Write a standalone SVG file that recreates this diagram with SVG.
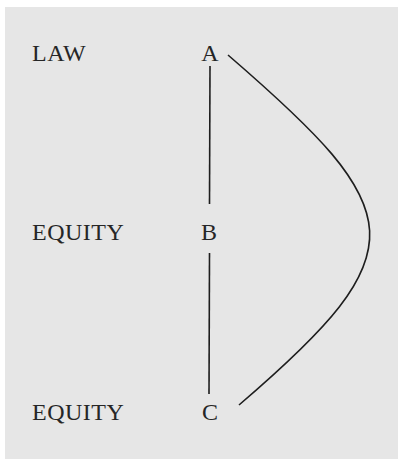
<svg xmlns="http://www.w3.org/2000/svg" width="398" height="459" viewBox="0 0 398 459">
<style>
.lbl{font-family:"Liberation Serif","Times New Roman",serif;font-size:24px;letter-spacing:0.5px;fill:#262626}
.node{font-family:"Liberation Serif","Times New Roman",serif;font-size:24px;fill:#262626;text-anchor:middle}
.edge{stroke:#1e1e1e;stroke-width:1.6;fill:none}
</style>
<rect x="5" y="7" width="393" height="452" fill="#e6e6e6"/>
<g id="row-labels">
<text class="lbl" x="32" y="61">LAW</text>
<text class="lbl" x="32" y="240">EQUITY</text>
<text class="lbl" x="32" y="420">EQUITY</text>
</g>
<g id="node-A"><text class="node" x="210" y="61">A</text></g>
<g id="node-B"><text class="node" x="209" y="240">B</text></g>
<g id="node-C"><text class="node" x="210" y="420">C</text></g>
<g id="connectors">
<line class="edge" x1="210" y1="66" x2="209.5" y2="204"/>
<line class="edge" x1="209.5" y1="253" x2="209" y2="394"/>
<path class="edge" d="M228,55 C410,212 420,250 239,405"/>
</g>
</svg>
